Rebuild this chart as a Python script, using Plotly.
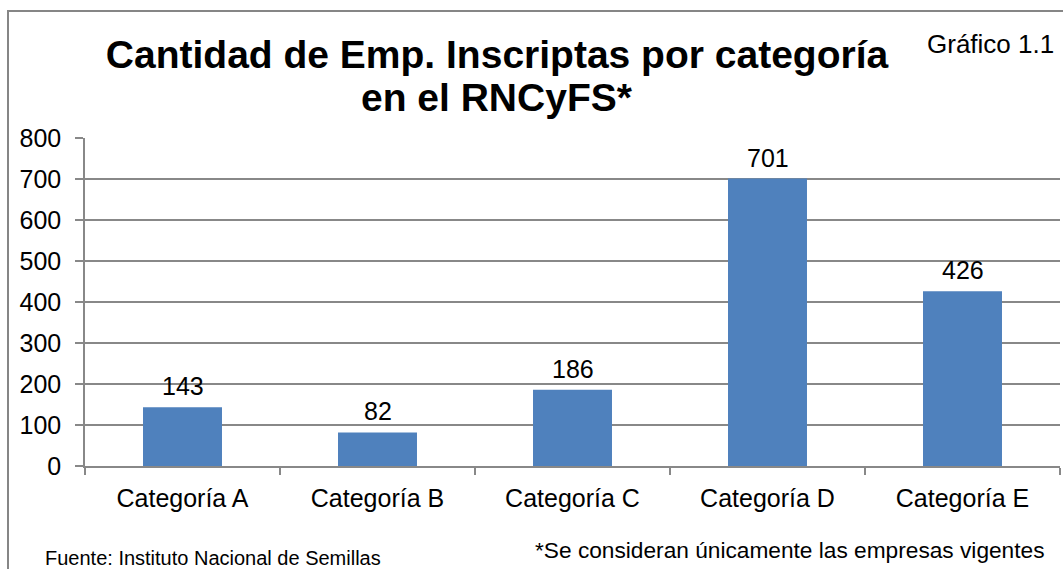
import plotly.graph_objects as go

categories = ["Categoría A", "Categoría B", "Categoría C", "Categoría D", "Categoría E"]
values = [143, 82, 186, 701, 426]
y_ticks = [0, 100, 200, 300, 400, 500, 600, 700, 800]

title_line1 = "Cantidad de Emp. Inscriptas por categoría"
title_line2 = "en el RNCyFS*"
chart_id = "Gráfico 1.1"
source_note = "Fuente: Instituto Nacional de Semillas"
footnote = "*Se consideran únicamente las empresas vigentes"

W, H = 1063, 569
L, R, T, B = 85, 3, 138, 103
FONT = "Liberation Sans, Arial, sans-serif"
GRID = "#888888"
BAR = "#4F81BD"


def px_x(px):
    return (px - L) / (W - L - R)


def px_y(py):
    return (H - B - py) / (H - T - B)


fig = go.Figure()
fig.add_trace(go.Bar(x=categories, y=values, marker=dict(color=BAR, line=dict(width=0)),
                     width=0.405, hoverinfo="x+y"))

annotations = []
for c, v in zip(categories, values):
    annotations.append(dict(x=c, y=v, xref="x", yref="y", text=str(v), showarrow=False,
                            yanchor="bottom", yshift=5, font=dict(size=25, color="#000000", family=FONT)))

annotations += [
    dict(x=px_x(497), y=px_y(98), xref="paper", yref="paper", text="<b>" + title_line2 + "</b>",
         showarrow=False, xanchor="center", yanchor="middle",
         font=dict(size=39, color="#000000", family=FONT)),
    dict(x=px_x(990), y=px_y(44), xref="paper", yref="paper", text=chart_id, showarrow=False,
         xanchor="center", yanchor="middle", font=dict(size=26, color="#000000", family=FONT)),
    dict(x=px_x(43), y=px_y(558), xref="paper", yref="paper", text=source_note, showarrow=False,
         xanchor="left", yanchor="middle", font=dict(size=20, color="#000000", family=FONT)),
    dict(x=px_x(533), y=px_y(550), xref="paper", yref="paper", text=footnote, showarrow=False,
         xanchor="left", yanchor="middle", font=dict(size=22.7, color="#000000", family=FONT)),
]

fig.update_layout(
    width=W, height=H,
    margin=dict(l=L, r=R, t=T, b=B, pad=0),
    paper_bgcolor="white", plot_bgcolor="white",
    font=dict(family=FONT, color="#000000"),
    title=dict(text="<b>" + title_line1 + "</b>", x=497 / W, xanchor="center",
               y=1 - 54 / H, yanchor="middle", yref="container",
               font=dict(size=39, color="#000000", family=FONT)),
    showlegend=False,
    bargap=0.595,
    annotations=annotations,
    shapes=[dict(type="rect", xref="paper", yref="paper",
                 x0=px_x(8), x1=px_x(1075), y0=px_y(11), y1=px_y(585),
                 line=dict(color="#868686", width=2), fillcolor="rgba(0,0,0,0)", layer="below")],
)

fig.update_yaxes(range=[0, 800], tickvals=y_ticks, showgrid=True, gridcolor=GRID, gridwidth=1.5,
                 showline=True, linecolor=GRID, linewidth=1.5, ticks="outside", ticklen=8,
                 tickcolor=GRID, tickwidth=1.5, tickfont=dict(size=25, family=FONT, color="#000000"),
                 ticklabelstandoff=9, zeroline=False, fixedrange=True)
fig.update_xaxes(showline=True, linecolor=GRID, linewidth=1.5, ticks="outside", ticklen=7,
                 tickcolor=GRID, tickwidth=1.5, tickson="boundaries",
                 tickfont=dict(size=25, family=FONT, color="#000000"), ticklabelstandoff=9,
                 showgrid=False, fixedrange=True)

fig.write_html("out.html", config={"displayModeBar": False},
               post_script="document.body.style.margin='0';document.body.style.overflow='hidden';")
